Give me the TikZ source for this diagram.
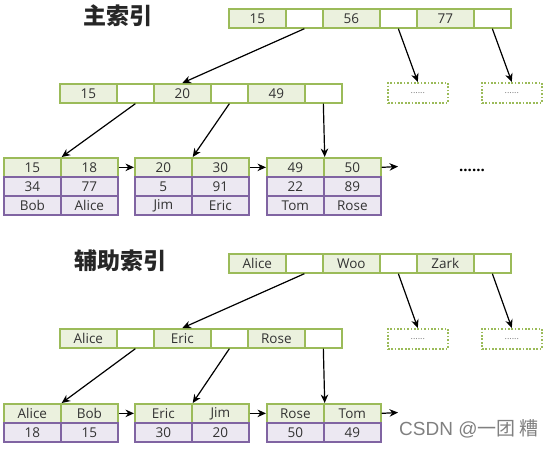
\documentclass[tikz,border=0pt]{standalone}
\usepackage{fontspec}
\setmainfont{Open Sans}
\newfontfamily\cjk{Noto Sans CJK SC}
\newfontfamily\wmfont{Liberation Sans}
\usetikzlibrary{arrows.meta}
\definecolor{gborder}{HTML}{9BBB59}
\definecolor{gfill}{HTML}{EBF1DE}
\definecolor{pborder}{HTML}{8064A2}
\definecolor{pfill}{HTML}{ECE8F2}
\definecolor{txt}{HTML}{333333}
\begin{document}
\begin{tikzpicture}[x=1pt,y=-1pt,
  cell/.style={draw=gborder,line width=1.7pt,minimum height=19pt,inner sep=0pt,anchor=north west,font=\fontsize{13.5}{13.5}\selectfont,text=txt},
  keyc/.style={cell,fill=gfill,minimum width=57pt},
  ptrc/.style={cell,fill=white,minimum width=37pt},
  valc/.style={cell,draw=pborder,fill=pfill,minimum width=57pt},
  dbox/.style={draw=gborder,line width=1.6pt,dash pattern=on 1.7pt off 1.7pt,minimum width=60pt,minimum height=20pt,inner sep=0pt,anchor=north west,font=\fontsize{9}{9}\selectfont,text=gray},
  arr/.style={line width=1.2pt,-{Stealth[length=8.5pt,width=7.5pt]}},
  title/.style={font=\cjk\bfseries\fontsize{23}{23}\selectfont,text=black!85}]
\useasboundingbox (0,0) rectangle (553,448);

% ---------------- primary index ----------------
\node[title] (t1) at (118,16) {主索引};

\node[keyc] (ra1) at (228,8) {15};
\node[ptrc] (rp1) at (285,8) {};
\node[keyc] (ra2) at (322,8) {56};
\node[ptrc] (rp2) at (379,8) {};
\node[keyc] (ra3) at (416,8) {77};
\node[ptrc] (rp3) at (473,8) {};

\node[keyc] (ma1) at (59,83) {15};
\node[ptrc] (mp1) at (116,83) {};
\node[keyc] (ma2) at (153,83) {20};
\node[ptrc] (mp2) at (210,83) {};
\node[keyc] (ma3) at (247,83) {49};
\node[ptrc] (mp3) at (304,83) {};

\node[dbox] (d1) at (387,82) {......};
\node[dbox] (d2) at (481,82) {......};

\node[keyc] (l1a) at (3,157) {15};
\node[keyc] (l1b) at (60,157) {18};
\node[valc] (l1c) at (3,176) {34};
\node[valc] (l1d) at (60,176) {77};
\node[valc] (l1e) at (3,195) {Bob};
\node[valc] (l1f) at (60,195) {Alice};

\node[keyc] (l2a) at (134,157) {20};
\node[keyc] (l2b) at (191,157) {30};
\node[valc] (l2c) at (134,176) {5};
\node[valc] (l2d) at (191,176) {91};
\node[valc] (l2e) at (134,195) {Jim};
\node[valc] (l2f) at (191,195) {Eric};

\node[keyc] (l3a) at (266,157) {49};
\node[keyc] (l3b) at (323,157) {50};
\node[valc] (l3c) at (266,176) {22};
\node[valc] (l3d) at (323,176) {89};
\node[valc] (l3e) at (266,195) {Tom};
\node[valc] (l3f) at (323,195) {Rose};

\coordinate (e1) at (398,166.5);
\node[font=\bfseries\fontsize{15}{15}\selectfont] (dots1) at (472,170) {......};

\draw[arr] (rp1.south) -- (ma2.north);
\draw[arr] (rp2.south) -- (d1.north);
\draw[arr] (rp3.south) -- (d2.north);
\draw[arr] (mp1.south) -- (l1a.north east);
\draw[arr] (mp2.south) -- (l2a.north east);
\draw[arr] (mp3.south) -- (l3a.north east);
\draw[arr] (l1b.east) -- (l2a.west);
\draw[arr] (l2b.east) -- (l3a.west);
\draw[arr] (l3b.east) -- (e1);

% ---------------- secondary index ----------------
\node[title] (t2) at (120,261) {辅助索引};

\node[keyc] (sa1) at (228,253) {Alice};
\node[ptrc] (sp1) at (285,253) {};
\node[keyc] (sa2) at (322,253) {Woo};
\node[ptrc] (sp2) at (379,253) {};
\node[keyc] (sa3) at (416,253) {Zark};
\node[ptrc] (sp3) at (473,253) {};

\node[keyc] (na1) at (59,328) {Alice};
\node[ptrc] (np1) at (116,328) {};
\node[keyc] (na2) at (153,328) {Eric};
\node[ptrc] (np2) at (210,328) {};
\node[keyc] (na3) at (247,328) {Rose};
\node[ptrc] (np3) at (304,328) {};

\node[dbox] (d3) at (387,328) {......};
\node[dbox] (d4) at (481,328) {......};

\node[keyc] (k1a) at (3,403) {Alice};
\node[keyc] (k1b) at (60,403) {Bob};
\node[valc] (k1c) at (3,422) {18};
\node[valc] (k1d) at (60,422) {15};

\node[keyc] (k2a) at (134,403) {Eric};
\node[keyc] (k2b) at (191,403) {Jim};
\node[valc] (k2c) at (134,422) {30};
\node[valc] (k2d) at (191,422) {20};

\node[keyc] (k3a) at (266,403) {Rose};
\node[keyc] (k3b) at (323,403) {Tom};
\node[valc] (k3c) at (266,422) {50};
\node[valc] (k3d) at (323,422) {49};

\coordinate (e2) at (398,412.5);

\draw[arr] (sp1.south) -- (na2.north);
\draw[arr] (sp2.south) -- (d3.north);
\draw[arr] (sp3.south) -- (d4.north);
\draw[arr] (np1.south) -- (k1a.north east);
\draw[arr] (np2.south) -- (k2a.north east);
\draw[arr] (np3.south) -- (k3a.north east);
\draw[arr] (k1b.east) -- (k2a.west);
\draw[arr] (k2b.east) -- (k3a.west);
\draw[arr] (k3b.east) -- (e2);

\node[anchor=west,text=black!50,font=\fontsize{19}{19}\selectfont,inner sep=0pt] (wm) at (399,429) {\wmfont CSDN @\cjk 一团 糟};
\end{tikzpicture}
\end{document}
